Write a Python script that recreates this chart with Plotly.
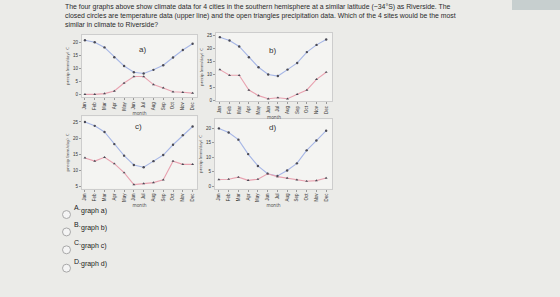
import plotly.graph_objects as go

months = ["Jan", "Feb", "Mar", "Apr", "May", "Jun", "Jul", "Aug", "Sep", "Oct", "Nov", "Dec"]

temp_a = [21.0, 20.2, 18.2, 14.4, 11.0, 8.6, 8.1, 9.5, 11.3, 14.3, 17.2, 19.6]
prec_a = [0.0, 0.0, 0.3, 1.3, 4.4, 6.9, 6.9, 3.8, 2.5, 1.0, 0.8, 0.5]

temp_b = [24.5, 23.2, 20.9, 16.7, 12.8, 10.0, 9.4, 11.9, 14.5, 18.7, 21.5, 23.6]
prec_b = [11.9, 9.7, 9.7, 4.0, 1.8, 0.6, 1.0, 0.6, 2.3, 4.0, 8.1, 10.9]

temp_c = [25.0, 23.8, 21.9, 18.1, 14.5, 11.6, 10.9, 12.8, 14.7, 17.9, 20.9, 23.6]
prec_c = [13.8, 12.8, 14.0, 12.0, 9.2, 5.5, 5.8, 6.1, 7.0, 12.8, 11.8, 11.8]

temp_d = [20.0, 18.6, 16.1, 11.1, 7.0, 4.3, 3.5, 5.4, 7.9, 12.4, 15.8, 19.2]
prec_d = [2.3, 2.4, 3.1, 2.0, 2.4, 4.3, 3.3, 2.8, 2.2, 1.7, 1.9, 2.8]

panel_labels = ["a)", "b)", "c)", "d)"]
choices = [("A.", "graph a)"), ("B.", "graph b)"), ("C.", "graph c)"), ("D.", "graph d)")]
question = ("The four graphs above show climate data for 4 cities in the southern hemisphere at a similar latitude (~34°S) as Riverside. The<br>"
            "closed circles are temperature data (upper line) and the open triangles precipitation data. Which of the 4 sites would be the most<br>"
            "similar in climate to Riverside?")

W, H = 560, 297
def px_x(a, b):
    return [a / W, b / W]
def px_y(top, bot):
    return [1 - bot / H, 1 - top / H]

panels = [
    dict(temp=temp_a, prec=prec_a, xd=px_x(82, 197), yd=px_y(35, 98), xr=[-0.3, 11.45], yr=[-1.15, 23.1], yt=[0, 5, 10, 15, 20]),
    dict(temp=temp_b, prec=prec_b, xd=px_x(216, 332), yd=px_y(33, 102), xr=[-0.4, 11.6], yr=[-0.4, 26.2], yt=[0, 5, 10, 15, 20, 25]),
    dict(temp=temp_c, prec=prec_c, xd=px_x(82, 197), yd=px_y(117, 190), xr=[-0.3, 11.45], yr=[4.2, 26.8], yt=[5, 10, 15, 20, 25]),
    dict(temp=temp_d, prec=prec_d, xd=px_x(215, 332), yd=px_y(120, 190), xr=[-0.4, 11.6], yr=[-0.9, 23.2], yt=[0, 5, 10, 15, 20]),
]

fig = go.Figure()
layout = {}
for i, p in enumerate(panels):
    n = "" if i == 0 else str(i + 1)
    xa, ya = "x" + n, "y" + n
    fig.add_trace(go.Scatter(x=months, y=p["temp"], xaxis=xa, yaxis=ya, mode="lines+markers",
                             line=dict(color="#a6b6e6", width=1.1),
                             marker=dict(color="#4a4a55", size=2.4, symbol="circle"), showlegend=False))
    fig.add_trace(go.Scatter(x=months, y=p["prec"], xaxis=xa, yaxis=ya, mode="lines+markers",
                             line=dict(color="#e8a2b0", width=1.1),
                             marker=dict(color="#4a4a55", size=2.6, symbol="triangle-up"), showlegend=False))
    layout["xaxis" + n] = dict(domain=p["xd"], anchor=ya, type="category", range=p["xr"],
                               tickangle=-90, tickfont=dict(size=4.5, color="#333", family="Liberation Sans"),
                               showline=True, linecolor="#cdcdcd", linewidth=1, mirror=True,
                               showgrid=False, zeroline=False, ticks="outside", ticklen=2, tickcolor="#999",
                               title=dict(text="month", font=dict(size=4.5, color="#444"), standoff=2))
    layout["yaxis" + n] = dict(domain=p["yd"], anchor=xa, range=p["yr"], tickvals=p["yt"],
                               tickfont=dict(size=4.5, color="#333", family="Liberation Sans"),
                               showline=True, linecolor="#cdcdcd", linewidth=1, mirror=True,
                               showgrid=False, zeroline=False, ticks="outside", ticklen=2, tickcolor="#999",
                               title=dict(text="precip (mm/day)  C", font=dict(size=4.3, color="#444"), standoff=3))

annotations = []
label_pos = [(137, 43), (272, 44), (133, 127), (272, 128)]
for lab, (x, y) in zip(panel_labels, label_pos):
    annotations.append(dict(text=lab, x=x / W, y=1 - y / H, xref="paper", yref="paper",
                            showarrow=False, font=dict(size=8, color="#333", family="Liberation Sans")))

annotations.append(dict(text=question, x=63 / W, y=1 - 1.5 / H, xref="paper", yref="paper",
                        xanchor="left", yanchor="top", align="left", showarrow=False,
                        font=dict(size=6.9, color="#2a2a2a", family="Liberation Sans")))

shapes = [dict(type="rect", xref="paper", yref="paper", x0=512 / W, x1=1, y0=1 - 10 / H, y1=1,
               fillcolor="#c7cfcf", line=dict(width=0), layer="below")]
choice_y = [216, 233.5, 251.5, 270]
for (letter, text), cy in zip(choices, choice_y):
    shapes.append(dict(type="circle", xref="paper", yref="paper",
                       x0=(66.5 - 4) / W, x1=(66.5 + 4) / W, y0=1 - (cy + 4) / H, y1=1 - (cy - 4) / H,
                       line=dict(color="#a8a8a8", width=1), fillcolor="#f4f4f4"))
    annotations.append(dict(text=letter, x=71.5 / W, y=1 - (cy - 1.5) / H, xref="paper", yref="paper",
                            xanchor="left", showarrow=False,
                            font=dict(size=7, color="#222", family="Liberation Sans")))
    annotations.append(dict(text=text, x=79 / W, y=1 - (cy + 2) / H, xref="paper", yref="paper",
                            xanchor="left", showarrow=False,
                            font=dict(size=7, color="#222", family="Liberation Sans")))

fig.update_layout(width=W, height=H, margin=dict(l=0, r=0, t=0, b=0),
                  paper_bgcolor="#ebebe8", plot_bgcolor="#f4f4f2",
                  annotations=annotations, shapes=shapes, **layout)
fig.write_html("out.html")
